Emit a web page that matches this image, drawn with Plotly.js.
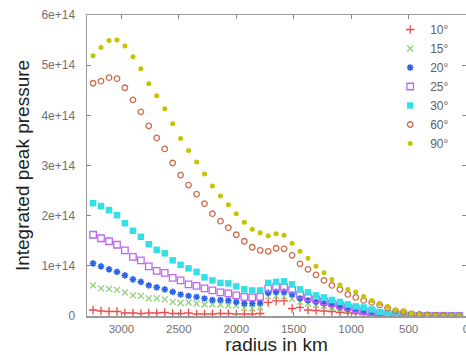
<!DOCTYPE html>
<html>
<head>
<meta charset="utf-8">
<script src="https://cdn.plot.ly/plotly-3.0.1.min.js"></script>
<style>html,body{margin:0;padding:0;background:#fff;}#chart{width:466px;height:355px;}</style>
</head>
<body>
<div id="chart"></div>
<script>
// radius in km (x values)
const radius = [3247,3178,3108,3039,2970,2900,2831,2762,2693,2623,2554,2485,2416,2346,2277,2208,2138,2069,2000,1930,1861,1792,1722,1653,1584,1514,1445,1376,1306,1237,1168,1098,1029,960,891,821,752,683,613,544,475,405,336,267,198,128,59];

// integrated peak pressure, in units of 1e14
const p10 = [0.12,0.10,0.09,0.09,0.06,0.06,0.05,0.06,0.06,0.07,0.05,0.05,0.06,0.04,0.04,0.04,0.05,0.05,0.04,0.04,0.04,0.05,0.27,0.30,0.30,0.15,0.17,0.12,0.11,0.10,0.09,0.07,0.06,0.05,0.03,0.02,0.01,0.01,0.005,0.004,0.003,0.002,0.002,0.001,0.001,0.001,0.001];
const p15 = [0.61,0.55,0.54,0.52,0.47,0.41,0.40,0.35,0.35,0.33,0.28,0.26,0.27,0.25,0.23,0.23,0.23,0.21,0.21,0.16,0.15,0.17,0.39,0.40,0.39,0.34,0.28,0.25,0.22,0.20,0.17,0.14,0.11,0.09,0.07,0.05,0.03,0.02,0.01,0.005,0.004,0.003,0.002,0.001,0.001,0.001,0.001];
const p20 = [1.05,0.99,0.93,0.88,0.81,0.73,0.68,0.61,0.57,0.53,0.48,0.43,0.40,0.38,0.35,0.32,0.32,0.31,0.28,0.25,0.25,0.26,0.46,0.48,0.48,0.43,0.35,0.31,0.28,0.25,0.22,0.18,0.14,0.11,0.08,0.06,0.04,0.03,0.02,0.01,0.005,0.004,0.003,0.002,0.001,0.001,0.001];
const p25 = [1.62,1.55,1.49,1.42,1.31,1.18,1.11,0.99,0.90,0.86,0.76,0.71,0.63,0.60,0.55,0.51,0.47,0.45,0.41,0.38,0.37,0.38,0.55,0.58,0.57,0.52,0.42,0.37,0.33,0.29,0.25,0.21,0.17,0.14,0.10,0.08,0.05,0.03,0.02,0.01,0.005,0.004,0.003,0.002,0.001,0.001,0.001];
const p30 = [2.25,2.19,2.11,2.01,1.85,1.70,1.58,1.43,1.32,1.25,1.11,1.02,0.95,0.88,0.77,0.71,0.66,0.65,0.59,0.53,0.51,0.51,0.66,0.68,0.69,0.63,0.53,0.47,0.41,0.37,0.32,0.28,0.23,0.19,0.17,0.13,0.08,0.06,0.05,0.04,0.01,0.01,0.005,0.003,0.002,0.001,0.001];
const p60 = [4.64,4.68,4.75,4.73,4.55,4.31,4.07,3.79,3.55,3.33,3.05,2.81,2.61,2.43,2.24,2.04,1.89,1.76,1.62,1.49,1.37,1.31,1.29,1.35,1.34,1.21,1.04,0.93,0.82,0.71,0.61,0.53,0.43,0.37,0.31,0.27,0.22,0.16,0.10,0.08,0.04,0.03,0.02,0.01,0.005,0.003,0.003];
const p90 = [5.19,5.35,5.49,5.50,5.38,5.17,4.93,4.63,4.39,4.13,3.83,3.54,3.30,3.07,2.83,2.59,2.39,2.22,2.04,1.87,1.73,1.66,1.60,1.64,1.61,1.45,1.29,1.15,0.99,0.86,0.73,0.62,0.53,0.48,0.39,0.31,0.25,0.19,0.12,0.10,0.05,0.03,0.02,0.01,0.005,0.003,0.003];

const seriesNames = ["10°","15°","20°","25°","30°","60°","90°"];
const seriesData = [p10,p15,p20,p25,p30,p60,p90];

const xTickVals = [3000,2500,2000,1500,1000,500,0];
const xTickText = ["3000","2500","2000","1500","1000","500","0"];
const yTickVals = [0,1e14,2e14,3e14,4e14,5e14,6e14];
const yTickText = ["0","1e+14","2e+14","3e+14","4e+14","5e+14","6e+14"];

const styles = [
  {symbol:"cross-thin-open", size:6, color:"#f04848", lw:1.3},
  {symbol:"x-thin-open", size:6, color:"#88cf70", lw:1.2},
  {symbol:"asterisk-open", size:5.5, color:"#2a64e8", lw:1.6},
  {symbol:"square-open", size:6.5, color:"#c066f0", lw:1.3},
  {symbol:"square", size:6.5, color:"#33e0e6", lw:0},
  {symbol:"circle-open", size:5.5, color:"#cc6a4a", lw:1.3},
  {symbol:"circle", size:5, color:"#c4c400", lw:0}
];

const traces = seriesData.map((arr, k) => ({
  type: "scatter",
  mode: "markers",
  name: seriesNames[k],
  x: radius,
  y: arr.map(v => v * 1e14),
  marker: {
    symbol: styles[k].symbol,
    size: styles[k].size,
    color: styles[k].color,
    line: {color: styles[k].color, width: styles[k].lw}
  }
}));

const fam = "Liberation Sans, Arial, sans-serif";

const layout = {
  width: 466, height: 355,
  margin: {l: 87, r: 0, t: 15, b: 39},
  paper_bgcolor: "#ffffff",
  plot_bgcolor: "#ffffff",
  showlegend: true,
  legend: {
    x: 0.80, xanchor: "left", y: 1.0, yanchor: "top",
    bgcolor: "rgba(0,0,0,0)",
    font: {family: fam, size: 12, color: "#606060"},
    itemwidth: 30,
    tracegroupgap: 0
  },
  xaxis: {
    range: [3300, 0],
    tickmode: "array", tickvals: xTickVals, ticktext: xTickText,
    ticks: "inside", ticklen: 4, tickcolor: "#888", tickwidth: 1,
    showline: true, linecolor: "#9a9a9a", linewidth: 1.5, mirror: "ticks",
    showgrid: false, zeroline: false,
    tickfont: {family: fam, size: 11.5, color: "#707070"},
    ticklabelstandoff: 2, ticklabeloverflow: "allow",
    title: {text: "radius in km", font: {family: fam, size: 19, color: "#222"}, standoff: 3}
  },
  yaxis: {
    range: [0, 6e14],
    tickmode: "array", tickvals: yTickVals, ticktext: yTickText,
    ticks: "inside", ticklen: 4, tickcolor: "#888", tickwidth: 1,
    showline: true, linecolor: "#9a9a9a", linewidth: 1.5, mirror: "ticks",
    showgrid: false, zeroline: false,
    tickfont: {family: fam, size: 12, color: "#707070"}, ticklabelstandoff: 8,
    title: {text: "Integrated peak pressure", font: {family: fam, size: 19, color: "#222"}, standoff: 6}
  }
};

Plotly.newPlot("chart", traces, layout, {displayModeBar: false, staticPlot: true});
</script>
</body>
</html>
